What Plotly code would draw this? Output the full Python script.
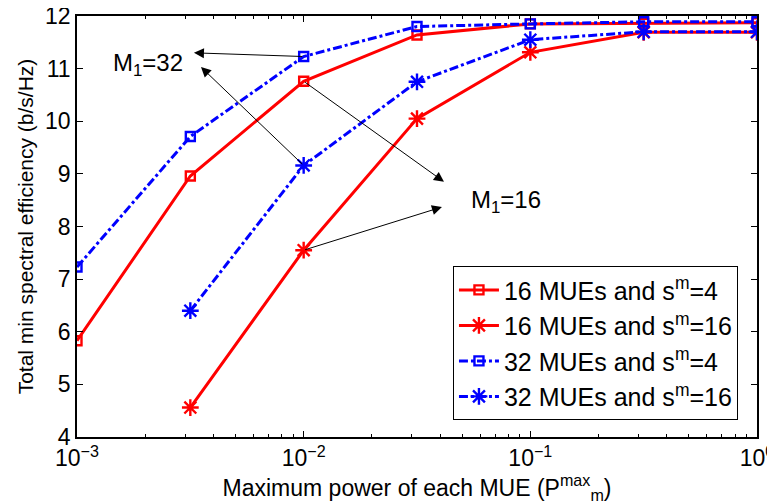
import plotly.graph_objects as go
import math

x_power = [1e-3, 10**-2.5, 1e-2, 10**-1.5, 1e-1, 10**-0.5, 1.0]
se_16_s4 = [5.83, 8.96, 10.76, 11.64, 11.85, 11.86, 11.87]
se_16_s16 = [None, 4.56, 7.55, 10.05, 11.31, 11.69, 11.69]
se_32_s4 = [7.23, 9.71, 11.23, 11.80, 11.85, 11.89, 11.89]
se_32_s16 = [None, 6.40, 9.16, 10.75, 11.55, 11.70, 11.70]

names = ["16 MUEs and s<sup>m</sup>=4", "16 MUEs and s<sup>m</sup>=16",
         "32 MUEs and s<sup>m</sup>=4", "32 MUEs and s<sup>m</sup>=16"]
xticks = [1e-3, 1e-2, 1e-1, 1]
xticktext = ["10<sup>−3</sup>", "10<sup>−2</sup>", "10<sup>−1</sup>", "10<sup>0</sup>"]
xminor = [m * 10.0**k for k in (-3, -2, -1) for m in range(2, 10)]

RED = "#ff0000"
BLUE = "#0000ff"
FONT = "Liberation Sans, Arial, sans-serif"

fig = go.Figure()
series = [
    (se_16_s4, names[0], RED, "solid", "square-open", 9),
    (se_16_s16, names[1], RED, "solid", "asterisk-open", 14),
    (se_32_s4, names[2], BLUE, "dashdot", "square-open", 9),
    (se_32_s16, names[3], BLUE, "dashdot", "asterisk-open", 14),
]
for ys, nm, col, dash, sym, sz in series:
    fig.add_trace(go.Scatter(
        x=x_power, y=ys, name=nm, mode="lines+markers",
        line=dict(color=col, width=3, dash=dash),
        marker=dict(symbol=sym, size=sz, color=col, line=dict(color=col, width=2.4)),
    ))

lx = [math.log10(v) for v in x_power]

def arrow(head_x, head_y, tail_x, tail_y):
    fig.add_annotation(x=head_x, y=head_y, ax=tail_x, ay=tail_y,
                       xref="x", yref="y", axref="x", ayref="y",
                       showarrow=True, arrowhead=2, arrowsize=2.0, arrowwidth=1,
                       arrowcolor="black", text="", standoff=0, startstandoff=0)

arrow(-2.484, 11.30, lx[2], se_32_s4[2])
arrow(-2.453, 11.03, lx[2], se_32_s16[2])
arrow(-1.381, 8.85, lx[2], se_16_s4[2])
arrow(-1.39, 8.37, lx[2], se_16_s16[2])

fig.add_annotation(x=-2.687, y=11.08, xref="x", yref="y", text="M<sub>1</sub>=32",
                   showarrow=False, font=dict(size=24, color="black", family=FONT))
fig.add_annotation(x=-1.108, y=8.48, xref="x", yref="y", text="M<sub>1</sub>=16",
                   showarrow=False, font=dict(size=24, color="black", family=FONT))

axis_common = dict(showline=True, linecolor="black", linewidth=1.5, mirror="ticks",
                   ticks="inside", ticklen=6, tickcolor="black", showgrid=False,
                   zeroline=False, automargin=False, ticklabeloverflow="allow")

fig.update_xaxes(type="log", range=[-3, 0], tickmode="array", tickvals=xticks,
                 ticktext=xticktext,
                 tickfont=dict(size=23, color="black", family=FONT),
                 minor=dict(ticks="inside", ticklen=3, tickcolor="black",
                            tickmode="array", tickvals=xminor, showgrid=False),
                 title=dict(text="Maximum power of each MUE (P<sup>max</sup><sub>m</sub>)",
                            font=dict(size=23, color="black", family=FONT), standoff=0),
                 **axis_common)
fig.update_yaxes(range=[4, 12], dtick=1,
                 tickfont=dict(size=23, color="black", family=FONT),
                 title=dict(text="Total min spectral efficiency (b/s/Hz)",
                            font=dict(size=21, color="black", family=FONT), standoff=6),
                 **axis_common)

fig.update_layout(
    width=767, height=496,
    margin=dict(l=69, r=18, t=8, b=67),
    paper_bgcolor="white", plot_bgcolor="white",
    font=dict(family=FONT, color="black"),
    legend=dict(x=0.972, y=0.04, xanchor="right", yanchor="bottom",
                bordercolor="black", borderwidth=1, bgcolor="white",
                font=dict(size=25, color="black", family=FONT),
                tracegroupgap=0, itemwidth=40),
)

fig.write_html("out.html")
